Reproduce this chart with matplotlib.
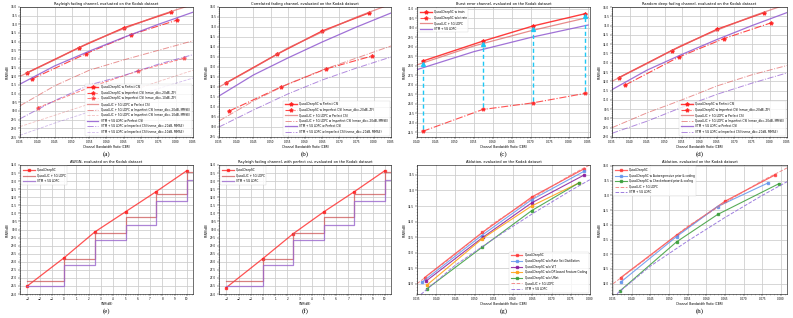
import numpy as np
import matplotlib.pyplot as plt
from matplotlib.ticker import FormatStrFormatter

# ---------------- data ----------------
# Quad-DeepSC, perfect CSI (shared by a, b, d, g, h)
cbr_dsc = [0.037, 0.052, 0.065, 0.0785]
psnr_dsc = [32.2, 33.65, 34.8, 35.7]

# reference curves vs CBR
cbr_ref = [0.035, 0.045, 0.055, 0.065, 0.075, 0.085]
lic_perfect = [32.0, 32.95, 33.95, 34.75, 35.5, 36.15]
vtm_perfect = [31.55, 32.6, 33.45, 34.25, 35.0, 35.7]

# (a) Rayleigh
cbr_a20 = [0.0385, 0.054, 0.067, 0.0805]
dsc_a20 = [31.85, 33.3, 34.4, 35.25]
cbr_a10 = [0.0402, 0.0563, 0.069, 0.0825]
dsc_a10 = [30.2, 31.45, 32.3, 33.05]
lic_a20 = [30.3, 31.45, 32.35, 32.95, 33.5, 34.05]
lic_a10 = [29.1, 29.75, 30.4, 31.0, 31.7, 32.35]
vtm_a20 = [29.55, 30.6, 31.5, 32.05, 32.7, 33.25]
vtm_a10 = [28.6, 29.3, 29.95, 30.6, 31.3, 31.9]

# (b) correlated fading
cbr_b20 = [0.038, 0.053, 0.066, 0.0795]
dsc_b20 = [30.8, 32.0, 32.9, 33.55]
lic_b20 = [30.3, 31.3, 32.15, 32.85, 33.45, 34.05]
vtm_b20 = [30.0, 30.85, 31.65, 32.35, 32.95, 33.5]

# (c) burst error
cbr_c = [0.0415, 0.0573, 0.0705, 0.0843]
c_train = [28.25, 29.3, 30.1, 30.75]
c_notrain = [24.55, 25.7, 26.05, 26.55]
cbr_c_ref = [0.040, 0.055, 0.070, 0.085]
lic_c = [28.05, 29.05, 29.85, 30.55]
vtm_c = [27.8, 28.75, 29.5, 30.15]

# (d) random deep fading
cbr_d20 = [0.0388, 0.054, 0.067, 0.0805]
dsc_d20 = [31.8, 33.3, 34.3, 35.15]
lic_d20 = [29.5, 30.3, 31.0, 31.75, 32.35, 32.85]
vtm_d20 = [29.2, 29.85, 30.6, 31.3, 31.9, 32.45]

# (e), (f) PSNR vs SNR
snr = [-3, 0, 2.5, 5, 7.5, 10]
snr_step = [-3, 0, 2.5, 5, 7.5, 10, 11]
dsc_awgn = [26.5, 28.25, 29.85, 31.1, 32.35, 33.65]
dsc_ray = [26.4, 28.2, 29.75, 31.1, 32.35, 33.65]
lic_step = [26.8, 28.2, 29.8, 30.8, 32.2, 33.55, 33.55]
vtm_step = [26.5, 27.8, 29.35, 30.3, 31.75, 33.1, 33.1]

# (g) ablation
cbr_g_rsd = [0.0363, 0.0518, 0.0648, 0.0785]
g_rsd = [32.05, 33.55, 34.7, 35.62]
cbr_g_vit = [0.0373, 0.0522, 0.0648, 0.0785]
g_vit = [32.08, 33.5, 34.6, 35.5]
cbr_g_dp = [0.0375, 0.052, 0.0648, 0.0772]
g_dp = [31.95, 33.45, 34.5, 35.25]
cbr_g_unet = [0.0375, 0.052, 0.0648, 0.0772]
g_unet = [31.83, 33.18, 34.35, 35.25]

# (h) ablation, entropy model
cbr_h_ar = [0.037, 0.052, 0.063, 0.0765]
h_ar = [32.05, 33.6, 34.62, 35.42]
cbr_h_cb = [0.0368, 0.052, 0.063, 0.0795]
h_cb = [31.75, 33.42, 34.35, 35.4]

# ---------------- styling ----------------
RED = '#ff1a1a'
LIC = '#e06666'
VTM = '#9059d0'
CYAN = '#1ec8f5'
FS_T, FS_TK, FS_L, FS_LG = 2.6, 2.0, 2.2, 2.1

plt.rcParams['font.family'] = 'DejaVu Sans'
plt.rcParams['axes.linewidth'] = 0.4

fig = plt.figure(figsize=(7.93, 3.18), dpi=100)
W, H = 793.0, 318.0
cols = [(20, 193), (219, 391), (417, 590), (612, 787)]
rows = [(7, 137), (165, 294)]
caps = [154, 311]


def make_ax(r, c):
    x0, x1 = cols[c]
    y0, y1 = rows[r]
    ax = fig.add_axes([x0 / W, 1 - y1 / H, (x1 - x0) / W, (y1 - y0) / H])
    ax.grid(True, color='#cccccc', lw=0.55)
    ax.minorticks_on()
    ax.tick_params(which='major', labelsize=FS_TK, length=1.2, width=0.3, pad=0.8)
    ax.tick_params(which='minor', length=0.6, width=0.2)
    ax.set_ylabel('PSNR(dB)', fontsize=FS_L, labelpad=1)
    return ax


def caption(ax, r, txt):
    p = ax.get_position()
    fig.text((p.x0 + p.x1) / 2, 1 - caps[r] / H, txt, ha='center', va='center',
             fontsize=5, family='Liberation Serif')


def legend(ax, loc):
    lg = ax.legend(loc=loc, fontsize=FS_LG, frameon=True, handlelength=4,
                   borderpad=0.5, labelspacing=0.55, framealpha=0.8)
    lg.get_frame().set_linewidth(0.3)


def cbr_axes(ax, title, xlim, ylim, xt, yt):
    ax.set_title(title, fontsize=FS_T, pad=1.5)
    ax.set_xlabel('Channel Bandwidth Ratio (CBR)', fontsize=FS_L, labelpad=1)
    ax.set_xticks(np.arange(xt[0], xt[1] + 1e-4, 0.005))
    ax.xaxis.set_major_formatter(FormatStrFormatter('%.3f'))
    ax.set_yticks(np.arange(yt[0], yt[1] + 0.01, 0.5))
    ax.yaxis.set_major_formatter(FormatStrFormatter('%.1f'))
    ax.set_xlim(*xlim)
    ax.set_ylim(*ylim)


mk = dict(marker='*', ms=2.8)

# (a)
ax = make_ax(0, 0)
ax.plot(cbr_dsc, psnr_dsc, '-', color=RED, lw=1.0, alpha=0.85, label='Quad-DeepSC w Perfect CSI', **mk)
ax.plot(cbr_a20, dsc_a20, '-.', color=RED, lw=0.8, alpha=0.8, label='Quad-DeepSC w Imperfect CSI (nmse_db=-20dB, ZF)', **mk)
ax.plot(cbr_a10, dsc_a10, '--', color=RED, lw=0.7, alpha=0.55, label='Quad-DeepSC w Imperfect CSI (nmse_db=-10dB, ZF)', **mk)
ax.plot(cbr_ref, lic_perfect, '-', color=LIC, lw=0.9, alpha=0.7, label='Quad-LIC + 5G LDPC w Perfect CSI')
ax.plot(cbr_ref, lic_a20, '-.', color=LIC, lw=0.7, alpha=0.7, label='Quad-LIC + 5G LDPC w Imperfect CSI (nmse_db=-20dB, MMSE)')
ax.plot(cbr_ref, lic_a10, '--', color=LIC, lw=0.6, alpha=0.4, label='Quad-LIC + 5G LDPC w Imperfect CSI (nmse_db=-10dB, MMSE)')
ax.plot(cbr_ref, vtm_perfect, '-', color=VTM, lw=0.9, alpha=0.85, label='VTM + 5G LDPC w Perfect CSI')
ax.plot(cbr_ref, vtm_a20, '-.', color=VTM, lw=0.7, alpha=0.7, label='VTM + 5G LDPC w Imperfect CSI (nmse_db=-20dB, MMSE)')
ax.plot(cbr_ref, vtm_a10, '--', color=VTM, lw=0.6, alpha=0.4, label='VTM + 5G LDPC w Imperfect CSI (nmse_db=-10dB, MMSE)')
cbr_axes(ax, 'Rayleigh fading channel, evaluated on the Kodak dataset', (0.035, 0.085), (28.5, 36.0),
         (0.035, 0.085), (28.5, 36.0))
legend(ax, 'lower right')
caption(ax, 0, '(a)')

# (b)
ax = make_ax(0, 1)
ax.plot(cbr_dsc, psnr_dsc, '-', color=RED, lw=1.0, alpha=0.85, label='Quad-DeepSC w Perfect CSI', **mk)
ax.plot(cbr_b20, dsc_b20, '-.', color=RED, lw=0.8, alpha=0.8, label='Quad-DeepSC w Imperfect CSI (nmse_db=-20dB, ZF)', **mk)
ax.plot(cbr_ref, lic_perfect, '-', color=LIC, lw=0.9, alpha=0.7, label='Quad-LIC + 5G LDPC w Perfect CSI')
ax.plot(cbr_ref, lic_b20, '-.', color=LIC, lw=0.7, alpha=0.7, label='Quad-LIC + 5G LDPC w Imperfect CSI (nmse_db=-20dB, MMSE)')
ax.plot(cbr_ref, vtm_perfect, '-', color=VTM, lw=0.9, alpha=0.85, label='VTM + 5G LDPC w Perfect CSI')
ax.plot(cbr_ref, vtm_b20, '-.', color=VTM, lw=0.7, alpha=0.7, label='VTM + 5G LDPC w Imperfect CSI (nmse_db=-20dB, MMSE)')
cbr_axes(ax, 'Correlated fading channel, evaluated on the Kodak dataset', (0.035, 0.085), (29.5, 36.0),
         (0.035, 0.085), (29.5, 36.0))
legend(ax, 'lower right')
caption(ax, 0, '(b)')

# (c)
ax = make_ax(0, 2)
ax.plot(cbr_c, c_train, '-', color=RED, lw=1.0, alpha=0.85, label='Quad-DeepSC w train', **mk)
ax.plot(cbr_c, c_notrain, '-.', color=RED, lw=0.8, alpha=0.75, label='Quad-DeepSC w/o train', **mk)
ax.plot(cbr_c_ref, lic_c, '-', color=LIC, lw=0.9, alpha=0.75, label='Quad-LIC + 5G LDPC')
ax.plot(cbr_c_ref, vtm_c, '-', color=VTM, lw=0.9, alpha=0.85, label='VTM + 5G LDPC')
tops = np.array(c_train) - 0.15
ax.vlines(cbr_c, np.array(c_notrain) + 0.12, tops, colors=CYAN, lw=1.0, linestyles=(0, (3, 2)))
ax.plot(cbr_c, tops, '^', color=CYAN, ms=2.8, ls='none')
cbr_axes(ax, 'Burst error channel, evaluated on the Kodak dataset', (0.040, 0.0855), (24.25, 31.1),
         (0.040, 0.085), (24.5, 31.0))
legend(ax, 'upper left')
caption(ax, 0, '(c)')

# (d)
ax = make_ax(0, 3)
ax.plot(cbr_dsc, psnr_dsc, '-', color=RED, lw=1.0, alpha=0.85, label='Quad-DeepSC w Perfect CSI', **mk)
ax.plot(cbr_d20, dsc_d20, '-.', color=RED, lw=0.8, alpha=0.8, label='Quad-DeepSC w Imperfect CSI (nmse_db=-20dB, ZF)', **mk)
ax.plot(cbr_ref, lic_perfect, '-', color=LIC, lw=0.9, alpha=0.7, label='Quad-LIC + 5G LDPC w Perfect CSI')
ax.plot(cbr_ref, lic_d20, '-.', color=LIC, lw=0.7, alpha=0.7, label='Quad-LIC + 5G LDPC w Imperfect CSI (nmse_db=-20dB, MMSE)')
ax.plot(cbr_ref, vtm_perfect, '-', color=VTM, lw=0.9, alpha=0.85, label='VTM + 5G LDPC w Perfect CSI')
ax.plot(cbr_ref, vtm_d20, '-.', color=VTM, lw=0.7, alpha=0.7, label='VTM + 5G LDPC w Imperfect CSI (nmse_db=-20dB, MMSE)')
cbr_axes(ax, 'Random deep fading channel, evaluated on the Kodak dataset', (0.035, 0.085), (29.0, 36.0),
         (0.035, 0.085), (29.0, 36.0))
legend(ax, 'lower right')
caption(ax, 0, '(d)')

# (e), (f)
for c, dsc, title, cap in [(0, dsc_awgn, 'AWGN, evaluated on the Kodak dataset', '(e)'),
                           (1, dsc_ray, 'Rayleigh fading channel, with perfect csi, evaluated on the Kodak dataset', '(f)')]:
    ax = make_ax(1, c)
    ax.plot(snr, dsc, '-', color=RED, lw=0.9, alpha=0.75, marker='s', ms=2, label='Quad-DeepSC')
    ax.step(snr_step, lic_step, where='post', color='#cc5555', lw=0.9, alpha=0.75, label='Quad-LIC + 5G LDPC')
    ax.step(snr_step, vtm_step, where='post', color='#9966cc', lw=0.9, alpha=0.8, label='VTM + 5G LDPC')
    ax.set_title(title, fontsize=FS_T, pad=1.5)
    ax.set_xlabel('SNR(dB)', fontsize=FS_L, labelpad=1)
    ax.set_xlim(-3.6, 10.5)
    ax.set_ylim(26.0, 34.0)
    ax.set_xticks(np.arange(-3, 11, 1))
    ax.set_yticks(np.arange(26.0, 34.01, 0.5))
    ax.yaxis.set_major_formatter(FormatStrFormatter('%.1f'))
    legend(ax, 'upper left')
    caption(ax, 1, cap)

# (g)
sq = dict(marker='s', ms=1.8)
ax = make_ax(1, 2)
ax.plot(cbr_dsc, psnr_dsc, '-', color='#ff3333', lw=0.9, alpha=0.75, label='Quad-DeepSC', **sq)
ax.plot(cbr_g_rsd, g_rsd, '-', color='#6495ed', lw=0.8, alpha=0.85, label='Quad-DeepSC w/o Rate Set Distillation', **sq)
ax.plot(cbr_g_vit, g_vit, '-', color='#8b1a9b', lw=0.8, alpha=0.85, label='Quad-DeepSC w/o ViT', **sq)
ax.plot(cbr_g_dp, g_dp, '-', color='#ffa31a', lw=0.8, alpha=0.9, label='Quad-DeepSC w/o DP-based Feature Coding', **sq)
ax.plot(cbr_g_unet, g_unet, '-', color='#3a9e3a', lw=0.8, alpha=0.85, label='Quad-DeepSC w/o UNet', **sq)
ax.plot(cbr_ref, lic_perfect, '--', color='#f07070', lw=0.7, alpha=0.8, label='Quad-LIC + 5G LDPC')
ax.plot(cbr_ref, vtm_perfect, '--', color='#9370db', lw=0.7, alpha=0.9, label='VTM + 5G LDPC')
cbr_axes(ax, 'Ablation, evaluated on the Kodak dataset', (0.035, 0.080), (31.67, 35.82),
         (0.035, 0.080), (32.0, 35.5))
legend(ax, 'lower right')
caption(ax, 1, '(g)')

# (h)
ax = make_ax(1, 3)
ax.plot(cbr_dsc, psnr_dsc, '-', color='#ff3333', lw=0.9, alpha=0.75, label='Quad-DeepSC', **sq)
ax.plot(cbr_h_ar, h_ar, '-', color='#6495ed', lw=0.8, alpha=0.85, label='Quad-DeepSC w Autoregressive prior & coding', **sq)
ax.plot(cbr_h_cb, h_cb, '-', color='#3a9e3a', lw=0.8, alpha=0.85, label='Quad-DeepSC w Checkerboard prior & coding', **sq)
ax.plot(cbr_ref, lic_perfect, '--', color='#f07070', lw=0.7, alpha=0.8, label='Quad-LIC + 5G LDPC')
ax.plot(cbr_ref, vtm_perfect, '--', color='#9370db', lw=0.7, alpha=0.9, label='VTM + 5G LDPC')
cbr_axes(ax, 'Ablation, evaluated on the Kodak dataset', (0.0347, 0.0816), (31.65, 36.03),
         (0.035, 0.080), (32.0, 36.0))
legend(ax, 'upper left')
caption(ax, 1, '(h)')

fig.savefig('out.png', dpi=100)
